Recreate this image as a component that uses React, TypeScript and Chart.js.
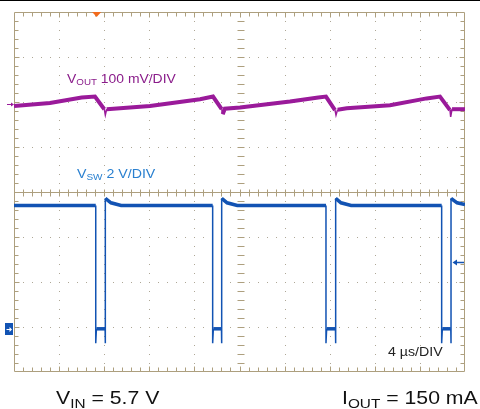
import React, { useEffect, useRef } from 'react';
import { Chart, registerables } from 'chart.js';

Chart.register(...registerables);

// Time axis: 4 µs/DIV, 10 divisions. Vertical: 8 divisions (-4..4).
const xMax = 40;
const yMin = -4;
const yMax = 4;

// VOUT trace (µs, divisions)
const voutT = [0, 3.19, 6.0, 7.18, 8.01, 8.1, 8.22, 12.06, 16.5, 17.65, 18.42, 18.51, 18.7, 20.04, 24.48, 26.99, 27.67, 28.47, 28.56, 28.7, 29.51, 33.35, 36.6, 37.78, 38.67, 38.73, 38.85, 40];
const voutV = [1.91, 1.98, 2.10, 2.12, 1.84, 1.71, 1.84, 1.91, 2.06, 2.12, 1.84, 1.73, 1.85, 1.88, 2.01, 2.10, 2.12, 1.82, 1.71, 1.83, 1.86, 1.93, 2.08, 2.12, 1.82, 1.67, 1.84, 1.84];

// VSW trace (µs, divisions)
const vswT = [0, 7.25, 7.25, 7.31, 8.08, 8.1, 8.1, 8.6, 9.5,
  17.62, 17.62, 17.68, 18.40, 18.42, 18.42, 18.9, 19.8,
  27.67, 27.67, 27.73, 28.51, 28.53, 28.53, 29.0, 29.9,
  37.93, 37.93, 37.99, 38.74, 38.76, 38.76, 39.3, 40];
const vswV = [-0.30, -0.30, -3.36, -3.04, -3.04, -3.36, -0.14, -0.24, -0.30,
  -0.30, -3.36, -3.04, -3.04, -3.36, -0.14, -0.24, -0.30,
  -0.30, -3.36, -3.04, -3.04, -3.36, -0.14, -0.24, -0.30,
  -0.30, -3.36, -3.04, -3.04, -3.36, -0.14, -0.24, -0.28];

// Markers
const triggerT = 7.33;
const voutGround = 1.95;
const vswGround = -3.04;
const triggerLevel = -1.55;

const PURPLE = '#9a1a9a';
const BLUE = '#1253b3';
const TAN = '#ad9f7e';
const DOT = '#aea796';

const gridPlugin = {
  id: 'scopeGrid',
  beforeDatasetsDraw(chart: any) {
    const { ctx, chartArea, scales } = chart;
    const { left, top, right, bottom } = chartArea;
    const xs = scales.x;
    const ys = scales.y;
    const px = (v: number) => Math.round(xs.getPixelForValue(v));
    const py = (v: number) => Math.round(ys.getPixelForValue(v));
    ctx.save();
    // top black rule
    ctx.fillStyle = '#000';
    ctx.fillRect(0, 0, chart.width, 1);
    // dotted major grid lines
    ctx.fillStyle = DOT;
    for (let i = 1; i < 10; i++) {
      const X = px(i * 4);
      for (let k = 1; k < 40; k++) ctx.fillRect(X, py(yMin + k * 0.2), 1, 1);
    }
    for (let j = -3; j <= 3; j++) {
      if (j === 0) continue;
      const Y = py(j);
      for (let k = 1; k < 50; k++) ctx.fillRect(px(k * 0.8), Y, 1, 1);
    }
    ctx.strokeStyle = TAN;
    ctx.lineWidth = 1;
    ctx.beginPath();
    // border
    const L = Math.round(left) + 0.5, R = Math.round(right) - 0.5;
    const T = Math.round(top) + 0.5, B = Math.round(bottom) - 0.5;
    ctx.rect(L, T, R - L, B - T);
    // center horizontal solid axis
    const cy = py(0) + 0.5;
    ctx.moveTo(L, cy); ctx.lineTo(R, cy);
    // ticks along x
    for (let k = 1; k < 50; k++) {
      const X = px(k * 0.8) + 0.5;
      const len = k % 5 === 0 ? 5 : 4;
      ctx.moveTo(X, T); ctx.lineTo(X, T + len);
      ctx.moveTo(X, B); ctx.lineTo(X, B - len);
      ctx.moveTo(X, cy - 3); ctx.lineTo(X, cy + 4);
    }
    // ticks along y
    const cx = px(20) + 0.5;
    for (let k = 1; k < 40; k++) {
      const Y = py(yMin + k * 0.2) + 0.5;
      const len = k % 5 === 0 ? 5 : 4;
      ctx.moveTo(L, Y); ctx.lineTo(L + len, Y);
      ctx.moveTo(R, Y); ctx.lineTo(R - len, Y);
      ctx.moveTo(cx - 3, Y); ctx.lineTo(cx + 4, Y);
    }
    ctx.stroke();

    // trigger position marker (orange triangle)
    const tx = xs.getPixelForValue(triggerT);
    ctx.fillStyle = '#f26a1b';
    ctx.beginPath();
    ctx.moveTo(tx - 4.5, Math.round(top));
    ctx.lineTo(tx + 4.5, Math.round(top));
    ctx.lineTo(tx, Math.round(top) + 5);
    ctx.closePath();
    ctx.fill();

    // VOUT ground marker (purple arrow on left)
    const gy = py(voutGround) + 0.5;
    ctx.strokeStyle = PURPLE;
    ctx.fillStyle = PURPLE;
    ctx.lineWidth = 1;
    ctx.beginPath();
    ctx.moveTo(7, gy); ctx.lineTo(12, gy); ctx.stroke();
    ctx.beginPath();
    ctx.moveTo(14, gy); ctx.lineTo(11, gy - 2); ctx.lineTo(11, gy + 2); ctx.closePath(); ctx.fill();

    // VSW ground marker (blue box with arrow)
    const by = py(vswGround);
    ctx.fillStyle = BLUE;
    ctx.fillRect(5, by - 6, 8, 12);
    ctx.strokeStyle = '#fff';
    ctx.fillStyle = '#fff';
    ctx.beginPath(); ctx.moveTo(6.5, by + 0.5); ctx.lineTo(10, by + 0.5); ctx.stroke();
    ctx.beginPath(); ctx.moveTo(12, by + 0.5); ctx.lineTo(9.5, by - 2); ctx.lineTo(9.5, by + 3); ctx.closePath(); ctx.fill();

    // trigger level marker (blue arrow on right)
    const ly = py(triggerLevel) + 0.5;
    ctx.strokeStyle = BLUE;
    ctx.fillStyle = BLUE;
    ctx.lineWidth = 1.5;
    ctx.beginPath(); ctx.moveTo(464, ly); ctx.lineTo(456, ly); ctx.stroke();
    ctx.beginPath(); ctx.moveTo(452.5, ly); ctx.lineTo(457, ly - 3); ctx.lineTo(457, ly + 3); ctx.closePath(); ctx.fill();
    ctx.restore();
  },
};

const thinIfSteep = (wide: number) => (c: any) =>
  Math.abs(c.p1.parsed.x - c.p0.parsed.x) < 0.15 ? 1.5 : wide;

const FONT = '"Liberation Sans", Arial, Helvetica, sans-serif';

function Label(props: { left: number; baseline: number; size: number; color: string; main: string; sub?: string; subSize?: number; subDrop?: number; rest: string; sx?: number }) {
  const { left, baseline, size, color, main, sub, subSize, subDrop, rest, sx } = props;
  return (
    <div
      style={{
        position: 'absolute',
        left,
        top: baseline - 0.8465 * size,
        fontFamily: FONT,
        fontSize: size,
        lineHeight: `${size}px`,
        color,
        whiteSpace: 'nowrap',
        transform: `scaleX(${sx || 1})`,
        transformOrigin: 'left center',
      }}
    >
      {main}
      {sub ? (
        <span style={{ fontSize: subSize, position: 'relative', top: subDrop, lineHeight: '1px' }}>{sub}</span>
      ) : null}
      {rest}
    </div>
  );
}

export default function App() {
  const ref = useRef<HTMLCanvasElement>(null);
  useEffect(() => {
    document.body.style.margin = '0';
    const chart = new Chart(ref.current as HTMLCanvasElement, {
      type: 'scatter',
      data: {
        datasets: [
          {
            data: voutT.map((t, i) => ({ x: t, y: voutV[i] })),
            showLine: true,
            borderColor: PURPLE,
            borderWidth: 4,
            pointRadius: 0,
            segment: { borderWidth: thinIfSteep(4) },
          } as any,
          {
            data: vswT.map((t, i) => ({ x: t, y: vswV[i] })),
            showLine: true,
            borderColor: BLUE,
            borderWidth: 3.5,
            pointRadius: 0,
            segment: { borderWidth: thinIfSteep(3.5) },
          } as any,
        ],
      },
      options: {
        animation: false,
        responsive: false,
        maintainAspectRatio: false,
        devicePixelRatio: 1,
        layout: { padding: { left: 14, right: 15, top: 12, bottom: 37 } },
        scales: {
          x: { type: 'linear', min: 0, max: xMax, display: false },
          y: { type: 'linear', min: yMin, max: yMax, display: false },
        },
        plugins: { legend: { display: false }, tooltip: { enabled: false } },
      },
      plugins: [gridPlugin],
    });
    return () => chart.destroy();
  }, []);

  return (
    <div style={{ position: 'relative', width: 480, height: 409, background: '#fff', overflow: 'hidden' }}>
      <canvas ref={ref} width={480} height={409} style={{ display: 'block', width: 480, height: 409 }} />
      <Label left={67} baseline={83} size={13.5} sx={1.03} color="#8a1c8a" main="V" sub="OUT" subSize={9.5} subDrop={2} rest=" 100 mV/DIV" />
      <Label left={77} baseline={178} size={13.5} sx={1.05} color="#2a80d0" main="V" sub="SW" subSize={9.5} subDrop={2} rest=" 2 V/DIV" />
      <Label left={388} baseline={356} size={13.5} sx={1.05} color="#222" main="4 µs/DIV" rest="" />
      <Label left={56} baseline={404} size={18} sx={1.18} color="#111" main="V" sub="IN" subSize={13} subDrop={4} rest=" = 5.7 V" />
      <Label left={342} baseline={404} size={18} sx={1.18} color="#111" main="I" sub="OUT" subSize={13} subDrop={4} rest=" = 150 mA" />
    </div>
  );
}
